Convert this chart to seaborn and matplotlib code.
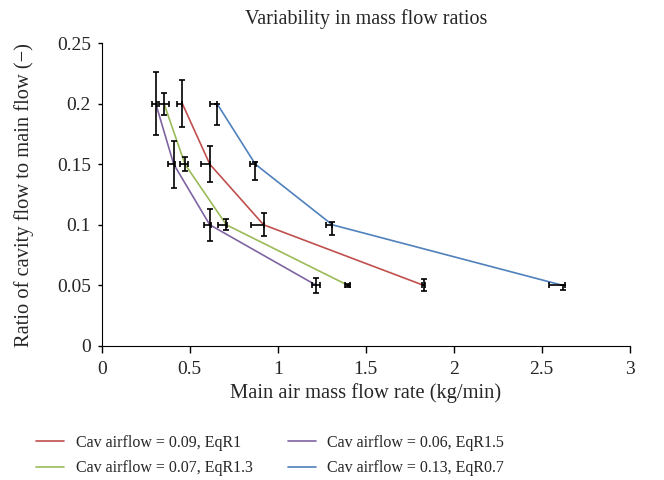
import numpy as np
import pandas as pd
import matplotlib
matplotlib.use("Agg")
import matplotlib.pyplot as plt
import seaborn as sns

# Mass flow ratio data
series_names = ["Cav airflow = 0.09, EqR1", "Cav airflow = 0.07, EqR1.3",
                "Cav airflow = 0.06, EqR1.5", "Cav airflow = 0.13, EqR0.7"]
colors = ["#C0504D", "#9BBB59", "#8064A2", "#4F81BD"]

ratio = [0.2, 0.15, 0.1, 0.05]

flow_eqr1 = [0.458, 0.614, 0.92, 1.83]
flow_eqr13 = [0.354, 0.473, 0.708, 1.40]
flow_eqr15 = [0.307, 0.409, 0.614, 1.22]
flow_eqr07 = [0.655, 0.873, 1.31, 2.62]

# y error (lower, upper) and x error (left, right)
yerr_eqr1 = [[0.0195, 0.0147, 0.0095, 0.005], [0.0195, 0.0147, 0.0095, 0.005]]
yerr_eqr13 = [[0.009, 0.006, 0.0046, 0.0015], [0.009, 0.006, 0.0046, 0.0015]]
yerr_eqr15 = [[0.026, 0.0195, 0.013, 0.0063], [0.026, 0.0195, 0.013, 0.0063]]
yerr_eqr07 = [[0.018, 0.013, 0.0085, 0.004], [0.0, 0.002, 0.002, 0.0]]

xerr_eqr1 = [[0.03, 0.05, 0.07, 0.01], [0.0, 0.0, 0.0, 0.005]]
xerr_eqr13 = [[0.026, 0.028, 0.047, 0.02], [0.026, 0.02, 0.005, 0.01]]
xerr_eqr15 = [[0.02, 0.03, 0.032, 0.023], [0.005, 0.005, 0.005, 0.023]]
xerr_eqr07 = [[0.04, 0.03, 0.035, 0.08], [0.0, 0.005, 0.0, 0.01]]

flows = [flow_eqr1, flow_eqr13, flow_eqr15, flow_eqr07]
yerrs = [yerr_eqr1, yerr_eqr13, yerr_eqr15, yerr_eqr07]
xerrs = [xerr_eqr1, xerr_eqr13, xerr_eqr15, xerr_eqr07]

df = pd.concat([pd.DataFrame({"flow": f, "ratio": ratio, "series": n})
                for f, n in zip(flows, series_names)], ignore_index=True)

sns.set_style("ticks")
plt.rcParams["font.family"] = ["Liberation Serif", "DejaVu Serif"]

fig = plt.figure(figsize=(6.64, 4.8), dpi=100)
ax = fig.add_axes([0.1532, 0.2792, 0.7951, 0.6312])

sns.lineplot(data=df, x="flow", y="ratio", hue="series", palette=colors,
             sort=False, estimator=None, linewidth=1.2, ax=ax, legend=True)

for f, ye, xe in zip(flows, yerrs, xerrs):
    ax.errorbar(f, ratio, yerr=ye, xerr=xe, fmt="none", ecolor="black",
                elinewidth=1.2, capsize=2.5, capthick=1.2, zorder=3)

ax.set_xlim(0, 3)
ax.set_ylim(0, 0.25)
ax.set_xticks([0, 0.5, 1, 1.5, 2, 2.5, 3])
ax.set_xticklabels(["0", "0.5", "1", "1.5", "2", "2.5", "3"])
ax.set_yticks([0, 0.05, 0.1, 0.15, 0.2, 0.25])
ax.set_yticklabels(["0", "0.05", "0.1", "0.15", "0.2", "0.25"])
ax.tick_params(labelsize=14, width=1, color="black")
ax.tick_params(axis="x", length=4.7, pad=6)
ax.tick_params(axis="y", length=3.2, pad=4.7)
for s in ["left", "bottom"]:
    ax.spines[s].set_color("black")
sns.despine(ax=ax)

ax.set_xlabel("Main air mass flow rate (kg/min)", fontsize=14.8, labelpad=4)
ax.set_ylabel("Ratio of cavity flow to main flow (\u2212)", fontsize=14.8)
ax.yaxis.set_label_coords(34 / 664, 1 - 195 / 480, transform=fig.transFigure)
ax.set_title("Variability in mass flow ratios", fontsize=14.5, pad=14)

handles, labels = ax.get_legend_handles_labels()
ax.get_legend().remove()
fig.legend(handles, labels, loc="upper left", bbox_to_anchor=(0.044, 0.108),
           borderaxespad=0, ncol=2, frameon=False, fontsize=11.5,
           handlelength=1.75, handletextpad=0.75, columnspacing=2.2,
           labelspacing=0.6)

fig.savefig("out.png", dpi=100)
